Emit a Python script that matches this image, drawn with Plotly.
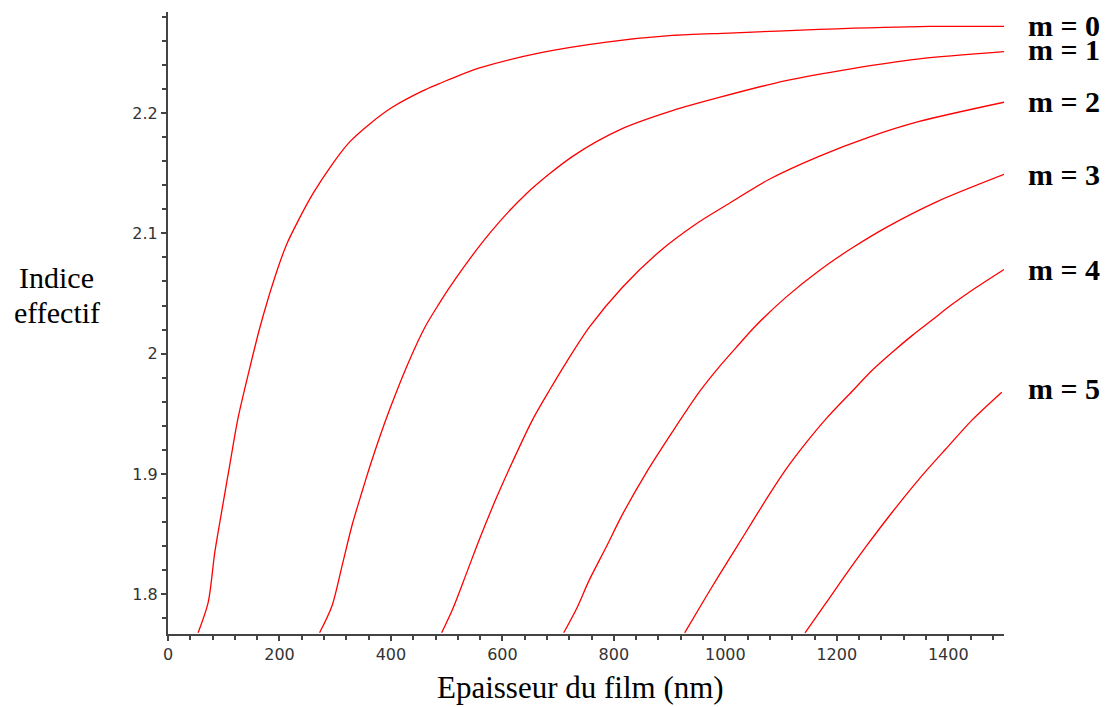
import plotly.graph_objects as go

# Epaisseur du film (nm) / Indice effectif for each mode m
x_m0 = [54, 72, 84, 99, 111, 125, 143, 165, 192, 213, 233, 260, 294, 326, 362, 403, 457, 487, 505, 559, 667, 787, 905, 1007, 1168, 1366, 1500]
y_m0 = [1.768, 1.793, 1.835, 1.876, 1.908, 1.945, 1.981, 2.022, 2.064, 2.091, 2.110, 2.133, 2.157, 2.176, 2.191, 2.205, 2.2185, 2.2245, 2.228, 2.2375, 2.250, 2.259, 2.2645, 2.2665, 2.2695, 2.272, 2.272]

x_m1 = [272, 294, 312, 330, 348, 362, 380, 398, 428, 461, 487, 505, 577, 643, 726, 815, 905, 989, 1109, 1228, 1348, 1500]
y_m1 = [1.768, 1.790, 1.823, 1.857, 1.885, 1.906, 1.931, 1.954, 1.989, 2.022, 2.042, 2.055, 2.100, 2.133, 2.164, 2.187, 2.202, 2.213, 2.227, 2.237, 2.245, 2.251]

x_m2 = [491, 511, 536, 559, 590, 618, 654, 685, 715, 756, 815, 882, 948, 1000, 1079, 1168, 1258, 1348, 1500]
y_m2 = [1.768, 1.788, 1.818, 1.846, 1.881, 1.910, 1.945, 1.970, 1.993, 2.022, 2.055, 2.085, 2.108, 2.123, 2.145, 2.164, 2.180, 2.193, 2.209]

x_m3 = [710, 733, 756, 787, 815, 858, 905, 953, 989, 1025, 1052, 1109, 1168, 1228, 1289, 1378, 1500]
y_m3 = [1.768, 1.788, 1.812, 1.840, 1.866, 1.901, 1.935, 1.968, 1.989, 2.008, 2.022, 2.047, 2.069, 2.088, 2.105, 2.126, 2.149]

x_m4 = [927, 959, 989, 1020, 1048, 1079, 1109, 1145, 1181, 1228, 1263, 1299, 1335, 1371, 1407, 1450, 1500]
y_m4 = [1.768, 1.793, 1.816, 1.839, 1.860, 1.883, 1.904, 1.926, 1.946, 1.969, 1.986, 2.001, 2.015, 2.028, 2.041, 2.055, 2.070]

x_m5 = [1143, 1181, 1217, 1253, 1299, 1348, 1396, 1443, 1496]
y_m5 = [1.768, 1.793, 1.817, 1.840, 1.868, 1.896, 1.921, 1.945, 1.968]

mode_labels = ["m = 0", "m = 1", "m = 2", "m = 3", "m = 4", "m = 5"]
label_y = [2.2724, 2.2525, 2.2093, 2.1487, 2.0699, 1.9711]

x_tickvals = [0, 200, 400, 600, 800, 1000, 1200, 1400]
y_tickvals = [1.8, 1.9, 2.0, 2.1, 2.2]
y_ticktext = ["1.8", "1.9", "2", "2.1", "2.2"]

series_x = [x_m0, x_m1, x_m2, x_m3, x_m4, x_m5]
series_y = [y_m0, y_m1, y_m2, y_m3, y_m4, y_m5]

fig = go.Figure()
for xs, ys, name in zip(series_x, series_y, mode_labels):
    fig.add_trace(go.Scatter(
        x=xs, y=ys, mode="lines", name=name,
        line=dict(color="#ff0000", width=1.3, shape="spline", smoothing=0.8),
        showlegend=False, hoverinfo="x+y",
    ))

serif = "Liberation Serif, Times New Roman, serif"
sans = "DejaVu Sans, Arial, sans-serif"

for lab, ly in zip(mode_labels, label_y):
    fig.add_annotation(
        x=1.0, xref="paper", xshift=22, y=ly, yref="y",
        text="<b>" + lab + "</b>", showarrow=False,
        xanchor="left", yanchor="middle",
        font=dict(family=serif, size=30, color="black"),
    )

fig.add_annotation(
    xref="paper", yref="paper", x=-0.1328, y=0.5725,
    text="Indice", showarrow=False,
    xanchor="center", yanchor="middle",
    font=dict(family=serif, size=30, color="black"),
)
fig.add_annotation(
    xref="paper", yref="paper", x=-0.1328, y=0.5163,
    text="effectif", showarrow=False,
    xanchor="center", yanchor="middle",
    font=dict(family=serif, size=30, color="black"),
)
fig.add_annotation(
    xref="paper", yref="paper", x=0.494, y=-0.086,
    text="Epaisseur du film (nm)", showarrow=False,
    xanchor="center", yanchor="middle",
    font=dict(family=serif, size=31, color="black"),
)

axis_common = dict(
    showline=True, linecolor="#444444", linewidth=2,
    showgrid=False, zeroline=False,
    ticks="outside", ticklen=5, tickwidth=1.5, tickcolor="#444444",
    tickfont=dict(family=sans, size=16, color="#333333"),
)

fig.update_layout(
    width=1104, height=699,
    margin=dict(l=160, r=108, t=4, b=73),
    paper_bgcolor="white", plot_bgcolor="white",
    xaxis=dict(range=[0, 1500], tickvals=x_tickvals,
               minor=dict(dtick=40, tick0=0, ticks="outside", ticklen=4, tickcolor="#444444", tickwidth=1.5),
               **axis_common),
    yaxis=dict(range=[1.767, 2.284], tickvals=y_tickvals, ticktext=y_ticktext,
               minor=dict(dtick=0.02, tick0=1.8, ticks="outside", ticklen=4, tickcolor="#444444", tickwidth=1.5),
               **axis_common),
)

fig.write_html("out.html")
